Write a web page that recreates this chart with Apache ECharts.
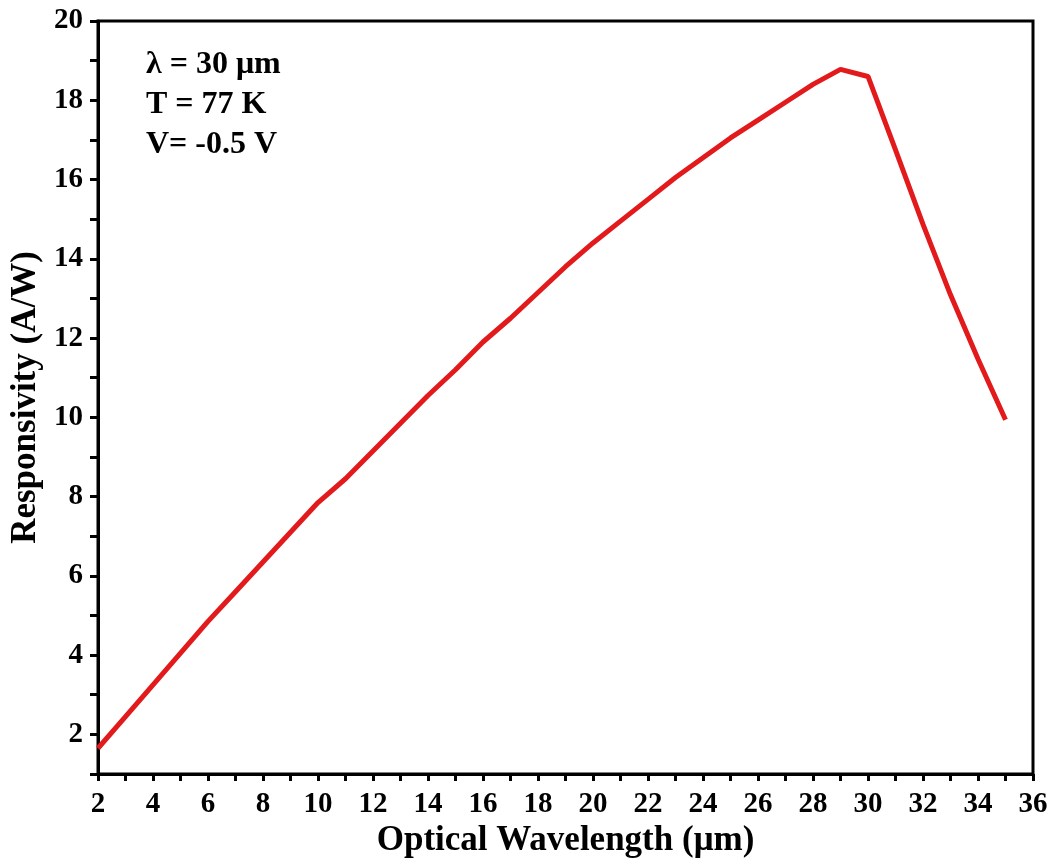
<!DOCTYPE html>
<html>
<head>
<meta charset="utf-8">
<script src="https://cdn.jsdelivr.net/npm/echarts@6/dist/echarts.min.js"></script>
<style>html,body{margin:0;padding:0;background:#fff}#c{width:1055px;height:865px}</style>
</head>
<body>
<div id="c"></div>
<script>
const wavelength = [2,3,4,5,6,7,8,9,10,11,12,13,14,15,16,17,18,19,20,21,22,23,24,25,26,27,28,29,30,31,32,33,34,35];
const responsivity = [1.65,2.45,3.25,4.05,4.85,5.6,6.35,7.1,7.85,8.45,9.15,9.85,10.55,11.2,11.9,12.5,13.15,13.8,14.4,14.95,15.5,16.05,16.55,17.05,17.5,17.95,18.4,18.78,18.6,16.75,14.87,13.09,11.47,9.94];
const annotations = ['λ = 30 μm', 'T = 77 K', 'V= -0.5 V'];
const xTitle = 'Optical Wavelength (μm)';
const yTitle = 'Responsivity (A/W)';

const font = '"Liberation Serif", "Times New Roman", serif';
const chart = echarts.init(document.getElementById('c'));
chart.setOption({
  animation: false,
  backgroundColor: '#fff',
  grid: { left: 98, top: 21, right: 22, bottom: 91, show: true, borderColor: '#000', borderWidth: 3, containLabel: false },
  xAxis: {
    type: 'value', min: 2, max: 36, interval: 1,
    splitLine: { show: false },
    axisLine: { lineStyle: { color: '#000', width: 3 } },
    axisTick: { inside: false, length: 7, lineStyle: { color: '#000', width: 3 } },
    axisLabel: { interval: 1, color: '#000', fontFamily: font, fontWeight: 'bold', fontSize: 29, margin: 16,
      formatter: v => (v % 2 === 0 ? String(v) : '') },
    name: xTitle, nameLocation: 'middle', nameGap: 39,
    nameTextStyle: { color: '#000', fontFamily: font, fontWeight: 'bold', fontSize: 35 }
  },
  yAxis: {
    type: 'value', min: 1, max: 20, interval: 1,
    splitLine: { show: false },
    axisLine: { lineStyle: { color: '#000', width: 3 } },
    axisTick: { inside: false, length: 8, lineStyle: { color: '#000', width: 3 } },
    axisLabel: { color: '#000', fontFamily: font, fontWeight: 'bold', fontSize: 29, margin: 15,
      formatter: v => (v % 2 === 0 ? String(v) : '') },
    name: yTitle, nameLocation: 'middle', nameGap: 46,
    nameTextStyle: { color: '#000', fontFamily: font, fontWeight: 'bold', fontSize: 35 }
  },
  graphic: annotations.map((t, i) => ({
    type: 'text', left: 146, top: 49 + i * 40,
    style: { text: t, fill: '#000', font: 'bold 32px ' + font }
  })),
  series: [{
    type: 'line',
    data: wavelength.map((x, i) => [x, responsivity[i]]),
    showSymbol: false,
    lineStyle: { color: '#e31a1c', width: 5 },
    itemStyle: { color: '#e31a1c' }
  }]
});
</script>
</body>
</html>
